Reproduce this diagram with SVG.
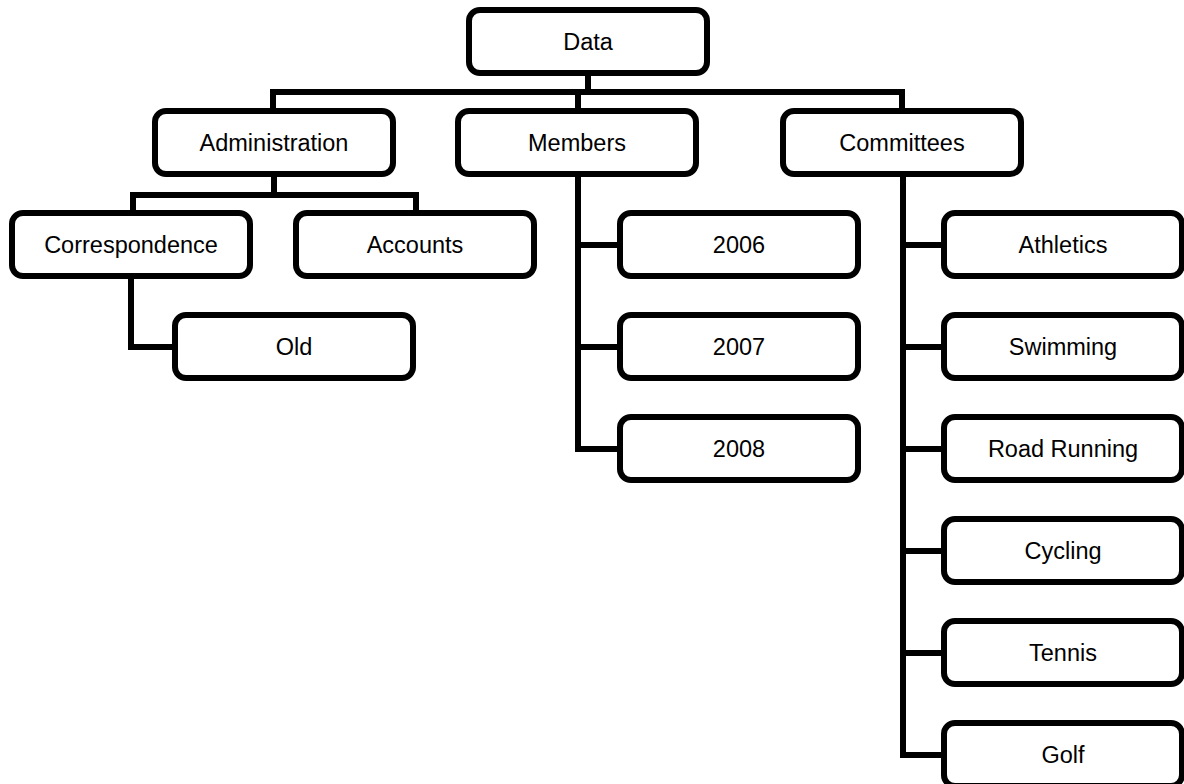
<svg xmlns="http://www.w3.org/2000/svg" width="1184" height="784" viewBox="0 0 1184 784">
<style>
.box{fill:#fff;stroke:#000;stroke-width:6}
.lbl{font-family:"Liberation Sans",Arial,sans-serif;font-size:23.5px;fill:#000;text-anchor:middle}
.conn{fill:none;stroke:#000;stroke-width:6;stroke-linejoin:miter;stroke-linecap:butt}
</style>
<rect width="1184" height="784" fill="#fff"/>
<g id="connectors" class="conn">
<path d="M588,73V92"/>
<path d="M273,111V92H902V111"/>
<path d="M578,92V111"/>
<path d="M274,174V195"/>
<path d="M133,213V195H416V213"/>
<path d="M131,276V347H175"/>
<path d="M578,174V449H620"/>
<path d="M578,245H620"/>
<path d="M578,347H620"/>
<path d="M903,174V755H944"/>
<path d="M903,245H944"/>
<path d="M903,347H944"/>
<path d="M903,449H944"/>
<path d="M903,551H944"/>
<path d="M903,653H944"/>
</g>
<g id="data"><rect class="box" x="469" y="10" width="238" height="63" rx="11"/><text class="lbl" x="588" y="50">Data</text></g>
<g id="administration"><rect class="box" x="155" y="111" width="238" height="63" rx="11"/><text class="lbl" x="274" y="151">Administration</text></g>
<g id="members"><rect class="box" x="458" y="111" width="238" height="63" rx="11"/><text class="lbl" x="577" y="151">Members</text></g>
<g id="committees"><rect class="box" x="783" y="111" width="238" height="63" rx="11"/><text class="lbl" x="902" y="151">Committees</text></g>
<g id="correspondence"><rect class="box" x="12" y="213" width="238" height="63" rx="11"/><text class="lbl" x="131" y="253">Correspondence</text></g>
<g id="accounts"><rect class="box" x="296" y="213" width="238" height="63" rx="11"/><text class="lbl" x="415" y="253">Accounts</text></g>
<g id="old"><rect class="box" x="175" y="315" width="238" height="63" rx="11"/><text class="lbl" x="294" y="355">Old</text></g>
<g id="y2006"><rect class="box" x="620" y="213" width="238" height="63" rx="11"/><text class="lbl" x="739" y="253">2006</text></g>
<g id="y2007"><rect class="box" x="620" y="315" width="238" height="63" rx="11"/><text class="lbl" x="739" y="355">2007</text></g>
<g id="y2008"><rect class="box" x="620" y="417" width="238" height="63" rx="11"/><text class="lbl" x="739" y="457">2008</text></g>
<g id="athletics"><rect class="box" x="944" y="213" width="238" height="63" rx="11"/><text class="lbl" x="1063" y="253">Athletics</text></g>
<g id="swimming"><rect class="box" x="944" y="315" width="238" height="63" rx="11"/><text class="lbl" x="1063" y="355">Swimming</text></g>
<g id="roadrunning"><rect class="box" x="944" y="417" width="238" height="63" rx="11"/><text class="lbl" x="1063" y="457">Road Running</text></g>
<g id="cycling"><rect class="box" x="944" y="519" width="238" height="63" rx="11"/><text class="lbl" x="1063" y="559">Cycling</text></g>
<g id="tennis"><rect class="box" x="944" y="621" width="238" height="63" rx="11"/><text class="lbl" x="1063" y="661">Tennis</text></g>
<g id="golf"><rect class="box" x="944" y="723" width="238" height="63" rx="11"/><text class="lbl" x="1063" y="763">Golf</text></g>
</svg>
